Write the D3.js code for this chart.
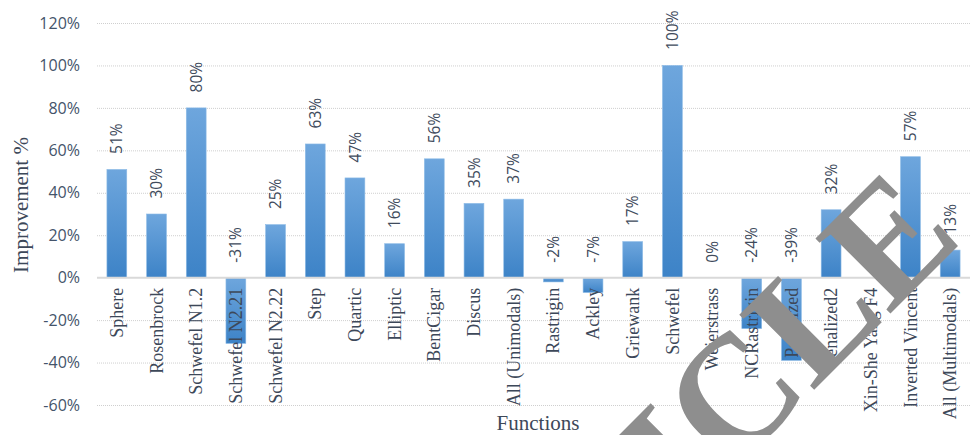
<!DOCTYPE html>
<html>
<head>
<meta charset="utf-8">
<script src="https://cdn.jsdelivr.net/npm/d3@7"></script>
<style>
  html, body { margin: 0; padding: 0; background: #fff; }
  svg { display: block; }
</style>
</head>
<body>
<svg id="chart" width="971" height="435"></svg>
<script>
const categories = ["Sphere", "Rosenbrock", "Schwefel N1.2", "Schwefel N2.21", "Schwefel N2.22", "Step", "Quartic", "Elliptic", "BentCigar", "Discus", "All (Unimodals)", "Rastrigin", "Ackley", "Griewank", "Schwefel", "Weierstrass", "NCRastrigin", "Penalized", "Penalized2", "Xin-She Yang F4", "Inverted Vincent", "All (Multimodals)"];
const improvement = [51, 30, 80, -31, 25, 63, 47, 16, 56, 35, 37, -2, -7, 17, 100, 0, -24, -39, 32, 0, 57, 13];
const valueLabels = ["51%", "30%", "80%", "-31%", "25%", "63%", "47%", "16%", "56%", "35%", "37%", "-2%", "-7%", "17%", "100%", "0%", "-24%", "-39%", "32%", "", "57%", "13%"];
const yTicks = [-60, -40, -20, 0, 20, 40, 60, 80, 100, 120];
const yTitle = "Improvement %";
const xTitle = "Functions";
const watermark = "ARTICLE";

const svg = d3.select("#chart");
const x = d3.scaleBand().domain(categories).range([97, 970]).paddingInner(0.5).paddingOuter(0.25);
const y = d3.scaleLinear().domain([-60, 120]).range([405, 23]);

const defs = svg.append("defs");
const grad = defs.append("linearGradient").attr("id", "barGrad").attr("x1", 0).attr("y1", 0).attr("x2", 0).attr("y2", 1);
grad.append("stop").attr("offset", "0%").attr("stop-color", "#6ea6dd");
grad.append("stop").attr("offset", "100%").attr("stop-color", "#3d83c7");

// gridlines
svg.append("g").selectAll("line").data(yTicks.filter(d => d !== 0)).join("line")
  .attr("x1", 97).attr("x2", 970)
  .attr("y1", d => y(d) + 0.5).attr("y2", d => y(d) + 0.5)
  .attr("stroke", "#cfcfcf").attr("stroke-width", 1).attr("stroke-dasharray", "1,1");

// y axis labels
const yAxis = d3.axisLeft(y).tickValues(yTicks).tickFormat(d => d + "%").tickSize(0).tickPadding(0);
const gy = svg.append("g").attr("transform", "translate(80,0)").call(yAxis);
gy.select(".domain").remove();
gy.selectAll("text").attr("font-family", "'Open Sans', sans-serif").attr("font-size", 16).attr("fill", "#44546a");

// bars
svg.append("g").selectAll("rect").data(categories).join("rect")
  .attr("x", d => x(d))
  .attr("width", x.bandwidth())
  .attr("y", (d, i) => y(Math.max(0, improvement[i])))
  .attr("height", (d, i) => Math.abs(y(improvement[i]) - y(0)))
  .attr("fill", "url(#barGrad)")
  .attr("stroke", "#8dbbe6").attr("stroke-width", 0.6);

// zero line
svg.append("line").attr("x1", 97).attr("x2", 970).attr("y1", y(0)).attr("y2", y(0))
  .attr("stroke", "#d9d9d9").attr("stroke-width", 2);

// value labels
svg.append("g").selectAll("text").data(categories).join("text")
  .attr("transform", (d, i) => {
    const v = improvement[i];
    const yy = v > 0 ? y(v) - 15.5 : y(0) - 15;
    return `translate(${x(d) + x.bandwidth() / 2},${yy}) rotate(-90)`;
  })
  .attr("dy", "0.36em")
  .attr("text-anchor", "start")
  .attr("font-family", "'Open Sans', sans-serif").attr("font-size", 15.5)
  .attr("fill", "#404b5c")
  .text((d, i) => valueLabels[i]);

// category labels
svg.append("g").selectAll("text").data(categories).join("text")
  .attr("transform", d => `translate(${x(d) + x.bandwidth() / 2},${y(0) + 10}) rotate(-90)`)
  .attr("dy", "0.34em")
  .attr("text-anchor", "end")
  .attr("font-family", "'Liberation Serif', 'Times New Roman', serif").attr("font-size", 18)
  .attr("fill", "#3d4859")
  .text(d => d);

// axis titles
svg.append("text").attr("transform", "translate(28,205) rotate(-90)")
  .attr("text-anchor", "middle")
  .attr("font-family", "'Liberation Serif', serif").attr("font-size", 21)
  .attr("fill", "#3d4859").text(yTitle);
svg.append("text").attr("x", 538).attr("y", 430)
  .attr("text-anchor", "middle")
  .attr("font-family", "'Liberation Serif', serif").attr("font-size", 21)
  .attr("fill", "#3d4859").text(xTitle);

// watermark
svg.append("text").attr("transform", "translate(965,239) rotate(-45)")
  .attr("text-anchor", "end")
  .attr("font-family", "'Liberation Serif', serif").attr("font-weight", "bold").attr("font-size", 162)
  .attr("fill", "#8e8e8e").text(watermark);
</script>
</body>
</html>
